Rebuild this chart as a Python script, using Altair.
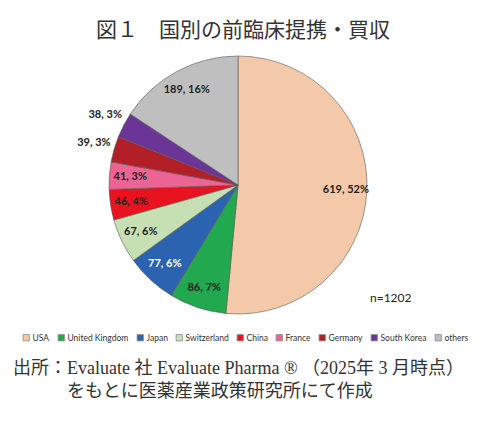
import altair as alt
import pandas as pd

countries = ["USA", "United Kingdom", "Japan", "Switzerland", "China",
             "France", "Germany", "South Korea", "others"]
counts = [619, 86, 77, 67, 46, 41, 39, 38, 189]
pcts = [52, 7, 6, 6, 4, 3, 3, 3, 16]
colors = ["#F4C9A9", "#22A84E", "#2B63B1", "#C6E0B4", "#E8131E",
          "#EC6494", "#B21F27", "#6B3597", "#BFBFBF"]
outside = ["Germany", "South Korea"]
white_label = ["Japan"]

title_text = "図１　国別の前臨床提携・買収"
note_text = "n=1202"
source_1 = "出所：Evaluate 社 Evaluate Pharma ® （2025年 3 月時点）"
source_2 = "をもとに医薬産業政策研究所にて作成"

df = pd.DataFrame({
    "country": countries,
    "count": counts,
    "order": list(range(len(countries))),
    "label": [f"{c}, {p}%" for c, p in zip(counts, pcts)],
})

CX, CY = 230, 177
R = 129

base = alt.Chart(df).encode(
    theta=alt.Theta("count:Q", stack=True),
    order=alt.Order("order:Q"),
    x=alt.value(CX),
    y=alt.value(CY),
)

pie = base.mark_arc(outerRadius=R, stroke="#595959", strokeWidth=0.6).encode(
    color=alt.Color(
        "country:N",
        scale=alt.Scale(domain=countries, range=colors),
        sort=countries,
        legend=alt.Legend(
            orient="none", legendX=14, legendY=325, direction="horizontal",
            columns=9, title=None, symbolType="square", symbolSize=40,
            symbolStrokeColor="#8c8c8c", symbolStrokeWidth=0.8,
            labelFont="Lato", labelFontSize=8.5, labelColor="#333",
            columnPadding=6, labelOffset=2,
        ),
    )
)

inside = base.mark_text(radius=108, font="Lato", fontWeight="bold", fontSize=11).encode(
    text=alt.condition(alt.FieldOneOfPredicate(field="country", oneOf=outside),
                       alt.value(""), "label:N"),
    color=alt.condition(alt.FieldOneOfPredicate(field="country", oneOf=white_label),
                        alt.value("white"), alt.value("#222222")),
)

outer = base.mark_text(radius=150, font="Lato", fontWeight="bold", fontSize=11,
                       color="#222222").encode(
    text=alt.condition(alt.FieldOneOfPredicate(field="country", oneOf=outside),
                       "label:N", alt.value("")),
)

def label(txt, x, y, **kw):
    return alt.Chart(pd.DataFrame({"t": [txt]})).mark_text(**kw).encode(
        text="t:N", x=alt.value(x), y=alt.value(y))

title = label(title_text, 235, 23, font="Noto Sans CJK JP", fontSize=21,
              color="#333333", align="center", baseline="middle")
note = label(note_text, 362, 290, font="Lato", fontSize=12, color="#222222",
             align="left", baseline="middle")
src1 = label(source_1, 5, 361, font="Liberation Serif, Noto Sans CJK JP", fontSize=18,
             color="#333333", align="left", baseline="middle")
src2 = label(source_2, 59, 384, font="Liberation Serif, Noto Sans CJK JP", fontSize=18,
             color="#333333", align="left", baseline="middle")

chart = alt.layer(pie, inside, outer, title, note, src1, src2).properties(
    width=483, height=407, autosize=alt.AutoSizeParams(type="none"), padding=0,
).configure_view(stroke=None)

chart.save("out.html", embed_options={"renderer": "svg", "actions": False})
